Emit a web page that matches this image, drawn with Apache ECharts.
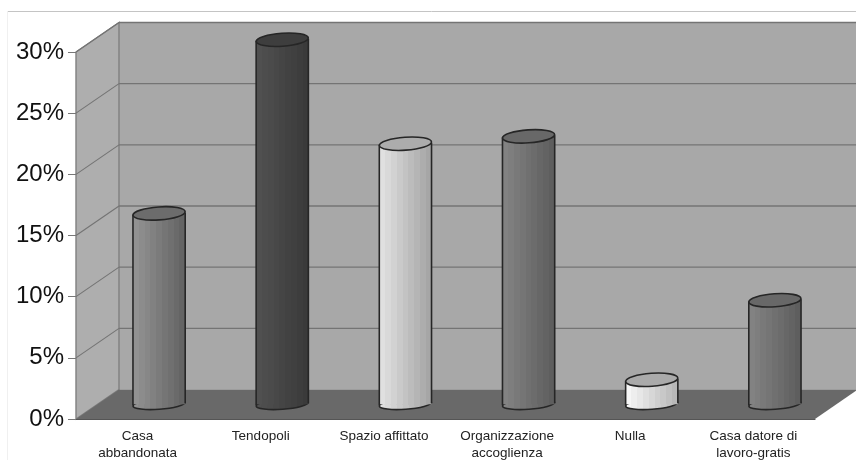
<!DOCTYPE html>
<html>
<head>
<meta charset="utf-8">
<style>
  html, body { margin: 0; padding: 0; background: #fff; }
  #chart { width: 856px; height: 460px; }
</style>
<script src="https://cdn.jsdelivr.net/npm/echarts@6/dist/echarts.min.js"></script>
</head>
<body>
<div id="chart"></div>
<script>
// Shares of answers by kind of housing
const categories = ['Casa\nabbandonata', 'Tendopoli', 'Spazio affittato', 'Organizzazione\naccoglienza', 'Nulla', 'Casa datore di\nlavoro-gratis'];
const shares = [15.6, 29.8, 21.3, 21.9, 2.0, 8.5];
const percentTicks = [0, 5, 10, 15, 20, 25, 30];

// Cylinder shading per category
const lightShades = [146, 80, 224, 130, 246, 130];
const darkShades = [100, 58, 166, 94, 184, 94];
const capShades = ['#6c6c6c', '#3e3e3e', '#acacac', '#686868', '#aaaaaa', '#686868'];

// Oblique projection of the 3D box
const DEPTH_X = 43;
const DEPTH_Y = -29.5;
const BAR_DEPTH = 0.5;

const WALL_BACK = '#a8a8a8';
const WALL_SIDE = '#aeaeae';
const FLOOR = '#696969';
const GRID_LINE = '#747474';
const OUTLINE = '#262626';

const yMax = percentTicks[percentTicks.length - 1];
const chart = echarts.init(document.getElementById('chart'), null, { renderer: 'canvas' });

function grey(v) {
  const c = Math.round(v);
  return 'rgb(' + c + ',' + c + ',' + c + ')';
}

// Vertical-striped fill running from the lit side to the shaded side
function stripedFill(light, dark) {
  const bands = 9;
  const stops = [];
  for (let i = 0; i < bands; i++) {
    const colour = grey(light + (dark - light) * (i / (bands - 1)));
    stops.push({ offset: i / bands, color: colour });
    stops.push({ offset: (i + 1) / bands, color: colour });
  }
  return new echarts.graphic.LinearGradient(0, 0, 1, 0, stops);
}

// Back wall, side wall, floor and the gridlines wrapping around them
function renderBox(params, api) {
  const left = api.coord([0, 0])[0] - api.size([1, 0])[0] / 2;
  const right = left + api.size([1, 0])[0] * categories.length;
  const y0 = api.coord([0, 0])[1];
  const yTop = api.coord([0, yMax])[1];
  const children = [];

  children.push({ type: 'polygon', shape: { points: [
    [left + DEPTH_X, y0 + DEPTH_Y], [right + DEPTH_X, y0 + DEPTH_Y],
    [right + DEPTH_X, yTop + DEPTH_Y], [left + DEPTH_X, yTop + DEPTH_Y]
  ] }, style: { fill: WALL_BACK } });
  children.push({ type: 'polygon', shape: { points: [
    [left, y0], [left + DEPTH_X, y0 + DEPTH_Y],
    [left + DEPTH_X, yTop + DEPTH_Y], [left, yTop]
  ] }, style: { fill: WALL_SIDE, stroke: '#808080', lineWidth: 1.4 } });
  children.push({ type: 'polygon', shape: { points: [
    [left, y0], [right, y0], [right + DEPTH_X, y0 + DEPTH_Y], [left + DEPTH_X, y0 + DEPTH_Y]
  ] }, style: { fill: FLOOR } });

  percentTicks.forEach(function (tick) {
    const y = api.coord([0, tick])[1];
    if (tick > 0) {
      children.push({ type: 'line', shape: { x1: left + DEPTH_X, y1: y + DEPTH_Y, x2: right + DEPTH_X, y2: y + DEPTH_Y },
        style: { stroke: GRID_LINE, lineWidth: 1.4 } });
      children.push({ type: 'line', shape: { x1: left, y1: y, x2: left + DEPTH_X, y2: y + DEPTH_Y },
        style: { stroke: GRID_LINE, lineWidth: 1.1 } });
    }
  });
  return { type: 'group', children: children };
}

// One upright cylinder standing halfway back on the floor
function renderCylinder(params, api) {
  const idx = api.value(0);
  const top = api.coord([idx, api.value(1)]);
  const base = api.coord([idx, 0]);
  const cx = top[0] + DEPTH_X * BAR_DEPTH;
  const topY = top[1] + DEPTH_Y * BAR_DEPTH;
  const baseY = base[1] + DEPTH_Y * BAR_DEPTH;
  const rx = api.size([1, 0])[0] * 0.212;
  const capRy = 6.5;
  const baseRy = 5;
  const tilt = 0.07;
  const fill = stripedFill(lightShades[idx], darkShades[idx]);

  return {
    type: 'group',
    children: [
      { type: 'ellipse', shape: { cx: cx, cy: baseY, rx: rx, ry: baseRy }, rotation: tilt, originX: cx, originY: baseY,
        style: { fill: fill, stroke: OUTLINE, lineWidth: 1.6 } },
      { type: 'rect', shape: { x: cx - rx, y: topY, width: rx * 2, height: baseY - topY },
        style: { fill: fill } },
      { type: 'line', shape: { x1: cx - rx, y1: topY + 1, x2: cx - rx, y2: baseY + 1 },
        style: { stroke: OUTLINE, lineWidth: 1.6 } },
      { type: 'line', shape: { x1: cx + rx, y1: topY - 1, x2: cx + rx, y2: baseY - 1 },
        style: { stroke: OUTLINE, lineWidth: 1.6 } },
      { type: 'ellipse', shape: { cx: cx, cy: topY, rx: rx, ry: capRy }, rotation: tilt, originX: cx, originY: topY,
        style: { fill: capShades[idx], stroke: OUTLINE, lineWidth: 1.6 } }
    ]
  };
}

chart.setOption({
  animation: false,
  backgroundColor: '#ffffff',
  grid: { left: 76, right: 41, top: 52, bottom: 41, containLabel: false, outerBoundsMode: 'none' },
  xAxis: {
    type: 'category',
    data: categories,
    z: 5,
    axisLine: { lineStyle: { color: '#555555', width: 1.2 } },
    axisTick: { length: 4, alignWithLabel: false, lineStyle: { color: '#666666' } },
    axisLabel: { interval: 0, color: '#222222', fontFamily: 'Liberation Sans', fontSize: 13.5, lineHeight: 17, margin: 9 }
  },
  yAxis: {
    type: 'value',
    min: 0,
    max: yMax,
    interval: 5,
    z: 5,
    splitLine: { show: false },
    axisLine: { show: false },
    axisTick: { show: true, length: 8, lineStyle: { color: '#777777' } },
    axisLabel: { formatter: '{value}%', color: '#111111', fontFamily: 'Liberation Sans', fontSize: 24, margin: 12 }
  },
  graphic: [
    { type: 'line', shape: { x1: 7, y1: 11.5, x2: 856, y2: 11.5 }, style: { stroke: '#c4c4c4', lineWidth: 1 } },
    { type: 'line', shape: { x1: 7.5, y1: 11, x2: 7.5, y2: 460 }, style: { stroke: '#f0f0f0', lineWidth: 1 } }
  ],
  series: [
    { type: 'custom', renderItem: renderBox, data: [[0, 0]], clip: false, z: 1, silent: true },
    {
      type: 'custom',
      renderItem: renderCylinder,
      data: shares.map(function (v, i) { return [i, v]; }),
      encode: { x: 0, y: 1 },
      clip: false,
      z: 2
    }
  ]
});
</script>
</body>
</html>
